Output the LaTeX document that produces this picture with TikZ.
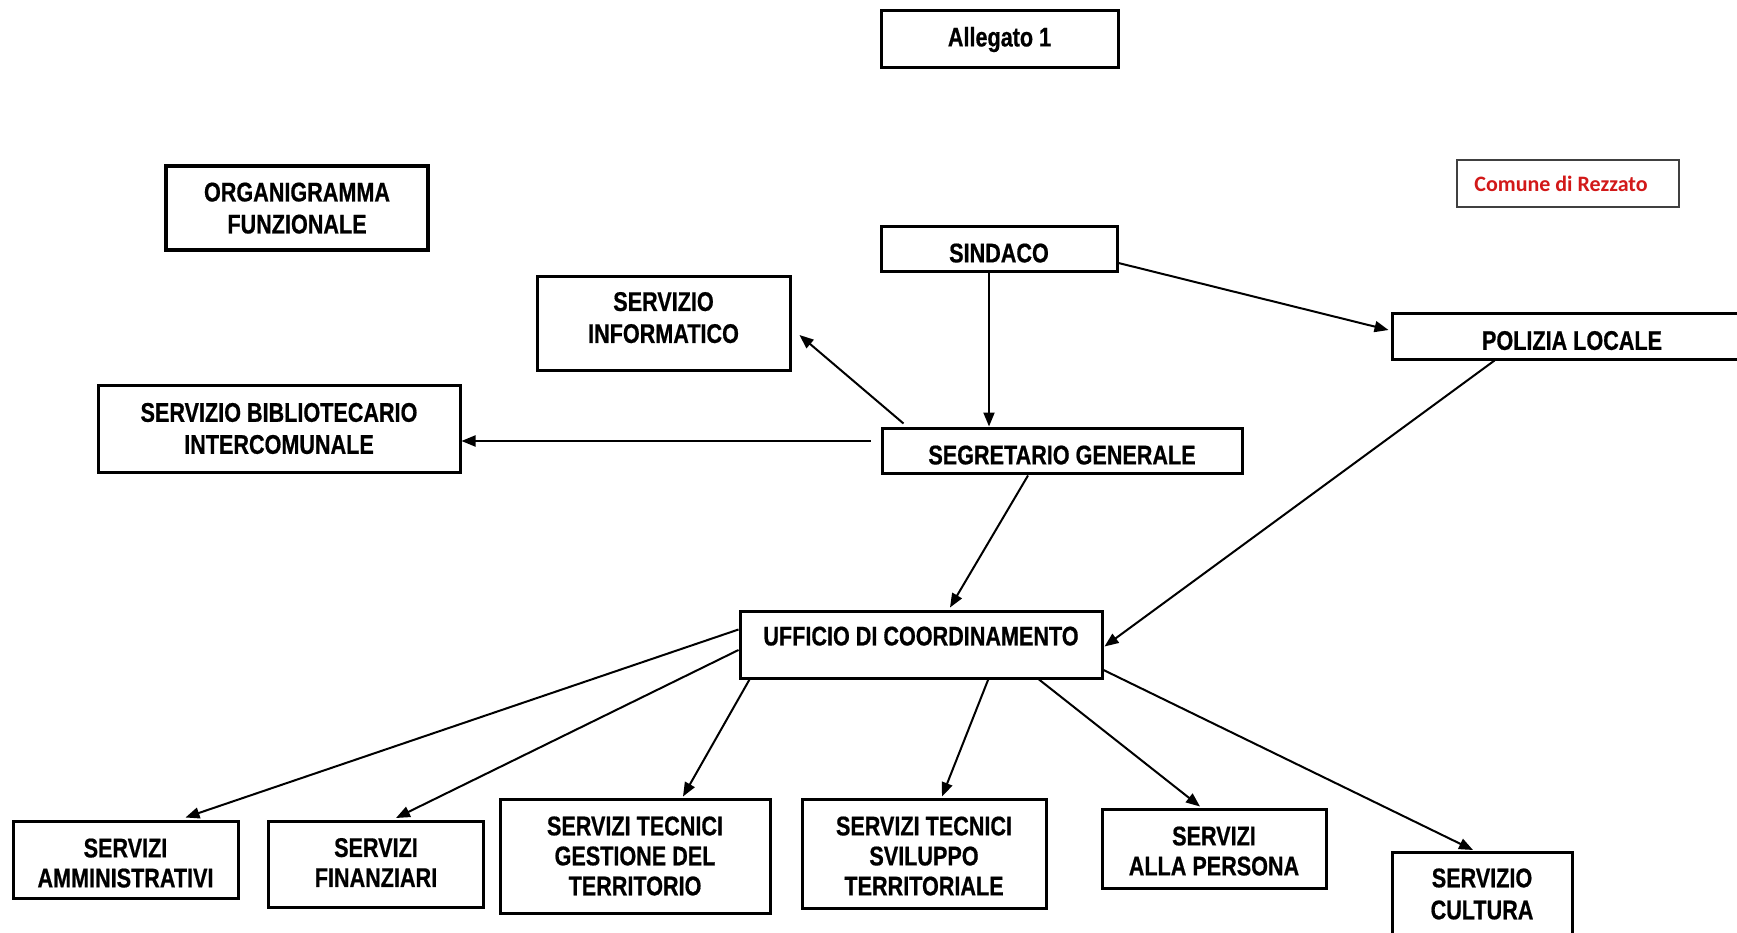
\documentclass[tikz,border=0pt]{standalone}
\usepackage{fontspec}
\newfontfamily\narrowsans{Liberation Sans}[FakeStretch=0.80, BoldFeatures={FakeBold=0.6}]
\newfontfamily\calib{Carlito}
\usetikzlibrary{arrows.meta,calc}
\definecolor{crim}{RGB}{210,25,25}
\newcommand\boxfont{\narrowsans\bfseries\fontsize{27}{30}\selectfont}
\newcommand\vsp[1]{\rule{0pt}{#1}}
\tikzset{
  box/.style={draw, line width=3pt, font=\boxfont, align=center, inner sep=0pt},
  txt/.style={font=\boxfont, align=center, inner sep=0pt},
  arr/.style={line width=2pt, -{Triangle[length=14pt,width=11pt]}},
  dn/.style={text depth=#1}
}
\begin{document}
\begin{tikzpicture}[x=1pt,y=-1pt]
\useasboundingbox (0,0) rectangle (1737,933);
\fill[white] (0,0) rectangle (1737,933);

\node[box, minimum width=237pt, minimum height=57pt] (alleg) at (999.5,39.5) {Allegato 1};
\node[draw=black!75, line width=1.5pt, minimum width=222pt, minimum height=47pt] (comune) at (1568,183.5) {};
\node[text=crim, inner sep=0pt, font=\calib\bfseries\fontsize{22}{26}\selectfont] (comunet) at (1561,183.5) {Comune di Rezzato};
\node[box, line width=3.5pt, minimum width=262pt, minimum height=84pt, dn=-6pt,
      font=\boxfont\fontsize{27}{32}\selectfont] (organ) at (297,208) {ORGANIGRAMMA\\FUNZIONALE};
\node[box, minimum width=236pt, minimum height=45pt] (sind) at (999,249.5) {\vsp{26pt}SINDACO};
\node[box, minimum width=360pt, minimum height=46pt] (pol) at (1572,336) {\vsp{28pt}POLIZIA LOCALE};
\node[box, minimum width=253pt, minimum height=93pt, dn=12pt,
      font=\boxfont\fontsize{27}{32}\selectfont] (inf) at (663.5,323.5) {SERVIZIO\\INFORMATICO};
\node[box, minimum width=362pt, minimum height=87pt,
      font=\boxfont\fontsize{27}{32}\selectfont] (bib) at (279,428.5) {SERVIZIO BIBLIOTECARIO\\INTERCOMUNALE};
\node[box, minimum width=360pt, minimum height=45pt] (seg) at (1062,450.5) {\vsp{28pt}SEGRETARIO GENERALE};
\node[box, minimum width=362pt, minimum height=67pt, dn=17pt] (uff) at (921,644.5) {UFFICIO DI COORDINAMENTO};
\node[box, minimum width=225pt, minimum height=77pt] (amm) at (125.5,859.5) {\vsp{26pt}SERVIZI\\AMMINISTRATIVI};
\node[box, minimum width=215pt, minimum height=86pt, dn=4pt] (fin) at (376,864.5) {SERVIZI\\FINANZIARI};
\node[box, minimum width=270pt, minimum height=114pt] (gest) at (635,856) {SERVIZI TECNICI\\GESTIONE DEL\\TERRITORIO};
\node[box, minimum width=244pt, minimum height=109pt] (svil) at (924,853.5) {\vsp{24pt}SERVIZI TECNICI\\SVILUPPO\\TERRITORIALE};
\node[box, minimum width=224pt, minimum height=79pt] (pers) at (1214,848.5) {\vsp{24pt}SERVIZI\\ALLA PERSONA};
\node[box, minimum width=180pt, minimum height=120pt, anchor=north] (cult) at (1482,851) {};
\node[txt, font=\boxfont\fontsize{27}{32}\selectfont] (cultt) at (1482,894) {SERVIZIO\\CULTURA};

\draw[arr] ($(sind.south)+(-10,0)$) coordinate (a1) -- (a1 |- seg.north);
\draw[arr] ($(sind.east)+(0,13.5)$) -- ($(pol.west)+(-2,-6)$);
\draw[arr] ($(seg.north west)+(23,-3)$) -- ($(inf.east)+(8,11.5)$);
\draw[arr] ($(seg.west)+(-10,-9.5)$) coordinate (b1) -- (b1 -| bib.east);
\draw[arr] ($(seg.south)+(-34,1)$) -- ($(uff.north)+(29,-2)$);
\draw[arr] ($(pol.south west)+(104,0)$) -- ($(uff.east)+(1,2)$);
\draw[arr] ($(uff.west)+(0,-15)$) -- ($(amm.north)+(60,-2)$);
\draw[arr] ($(uff.west)+(0,5.5)$) -- ($(fin.north)+(20,-2)$);
\draw[arr] ($(uff.south west)+(11,0)$) -- ($(gest.north)+(48,-1)$);
\draw[arr] ($(uff.south)+(68,-2)$) -- ($(svil.north)+(18,-1)$);
\draw[arr] ($(uff.south)+(118,0)$) -- ($(pers.north)+(-14,-1)$);
\draw[arr] ($(uff.east)+(0,25.5)$) -- ($(cult.north)+(-9,-1)$);
\end{tikzpicture}
\end{document}
